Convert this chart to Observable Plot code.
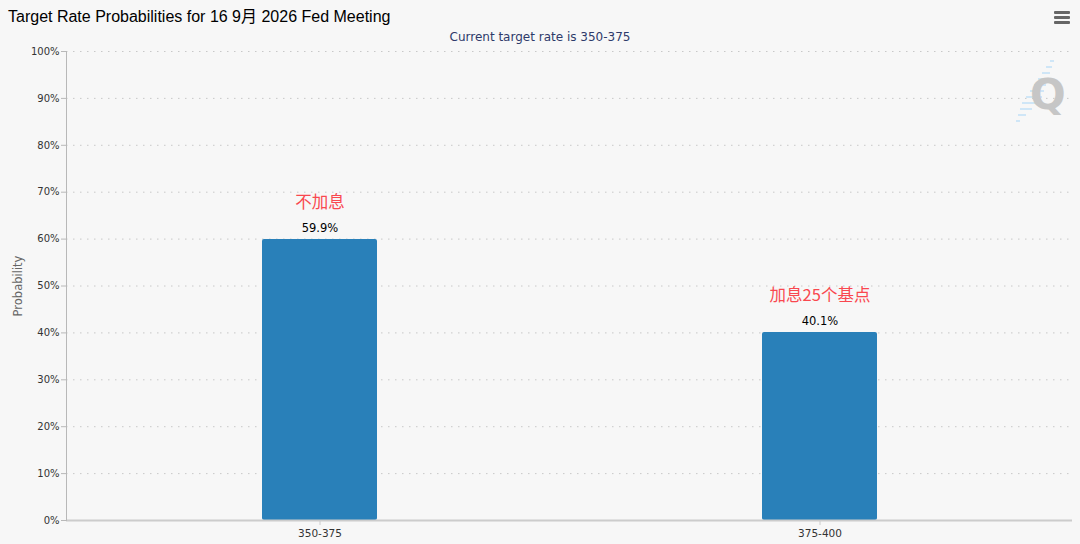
<!DOCTYPE html>
<html>
<head>
<meta charset="utf-8">
<script src="https://cdn.jsdelivr.net/npm/d3@7"></script>
<script src="https://cdn.jsdelivr.net/npm/@observablehq/plot@0.6"></script>
<style>
  html, body { margin: 0; padding: 0; background: #f7f7f7; }
  #wrap { position: relative; width: 1080px; height: 544px; overflow: hidden; background: #f7f7f7; }
  #header { position: relative; width: 1080px; height: 44px; }
  #title { position: absolute; left: 8px; top: 3px; font: 16px "Liberation Sans", "Noto Sans CJK SC", sans-serif; color: #000; white-space: nowrap; }
  #subtitle { position: absolute; left: 0; width: 1080px; top: 30px; text-align: center; font: 12px "DejaVu Sans", sans-serif; color: #2e3a6a; white-space: nowrap; }
  #menu { position: absolute; right: 10px; top: 11px; width: 16px; }
  #menu div { height: 2.5px; background: #666; margin-bottom: 2.5px; border-radius: 1px; }
  #logo { position: absolute; left: 1010px; top: 58px; width: 60px; height: 70px; }
  #logo span { position: absolute; left: 20px; top: 12px; font: bold 42px "DejaVu Sans", sans-serif; color: #c6c6c6; }
  #chart svg { display: block; }
</style>
</head>
<body>
<div id="wrap">
  <div id="header">
    <div id="title">Target Rate Probabilities for 16 9月 2026 Fed Meeting</div>
    <div id="subtitle">Current target rate is 350-375</div>
    <div id="menu"><div></div><div></div><div></div></div>
  </div>
  <div id="chart"></div>
  <div id="logo">
    <svg width="60" height="70" style="position:absolute;left:0;top:0">
      <g stroke="#cfe6f7" stroke-width="2">
        <line x1="40" y1="3" x2="44" y2="3"/><line x1="36" y1="9" x2="42" y2="9"/>
        <line x1="32" y1="15" x2="40" y2="15"/><line x1="28" y1="21" x2="38" y2="21"/>
        <line x1="24" y1="27" x2="36" y2="27"/><line x1="20" y1="33" x2="34" y2="33"/>
        <line x1="16" y1="39" x2="32" y2="39"/><line x1="12" y1="45" x2="30" y2="45"/>
        <line x1="10" y1="51" x2="22" y2="51"/><line x1="8" y1="57" x2="16" y2="57"/>
        <line x1="6" y1="63" x2="10" y2="63"/>
      </g>
    </svg>
    <span>Q</span>
  </div>
</div>
<script>
const categories = ["350-375", "375-400"];
const probabilities = [0.599, 0.401];
const valueLabels = ["59.9%", "40.1%"];
const annotations = ["不加息", "加息25个基点"];
const yTicks = [0, 0.1, 0.2, 0.3, 0.4, 0.5, 0.6, 0.7, 0.8, 0.9, 1.0];

const data = categories.map((c, i) => ({
  cat: c, p: probabilities[i], label: valueLabels[i], note: annotations[i]
}));

const chart = Plot.plot({
  width: 1080,
  height: 500,
  marginTop: 7,
  marginBottom: 24,
  marginLeft: 66,
  marginRight: 8,
  style: { background: "#f7f7f7", color: "#333", fontFamily: "DejaVu Sans, sans-serif", overflow: "visible" },
  x: { domain: categories, paddingInner: 0.77, paddingOuter: 0.391, label: null },
  y: { domain: [0, 1], label: null },
  marks: [
    Plot.gridY(yTicks.slice(1), { stroke: "#c8c8c8", strokeOpacity: 1, strokeWidth: 1, strokeDasharray: "1.5,5.5" }),
    Plot.barY(data, { x: "cat", y: "p", fill: "#2980b9", rx: 2 }),
    Plot.ruleY([0], { stroke: "#cccccc", strokeWidth: 2 }),
    Plot.frame({ anchor: "left", stroke: "#b8b8b8" }),
    Plot.axisY({ ticks: yTicks, tickFormat: d3.format(".0%"), tickSize: 5, tickPadding: 2, fontSize: 10, stroke: "#b8b8b8", fill: "#333", label: null }),
    Plot.axisX({ tickSize: 5, tickPadding: 4, fontSize: 10.5, stroke: "#cccccc", fill: "#333", label: null }),
    Plot.text(["Probability"], { frameAnchor: "left", textAnchor: "middle", rotate: -90, dx: -48, fontSize: 11.5, fill: "#666" }),
    Plot.text(data, { x: "cat", y: "p", text: "label", dy: -11, fontSize: 11.5, fill: "#000" }),
    Plot.text(data, { x: "cat", y: "p", text: "note", dy: -37, fontSize: 16.5, fill: "#f9484f", fontFamily: "Noto Sans CJK SC, sans-serif" })
  ]
});
document.getElementById("chart").appendChild(chart);
</script>
</body>
</html>
